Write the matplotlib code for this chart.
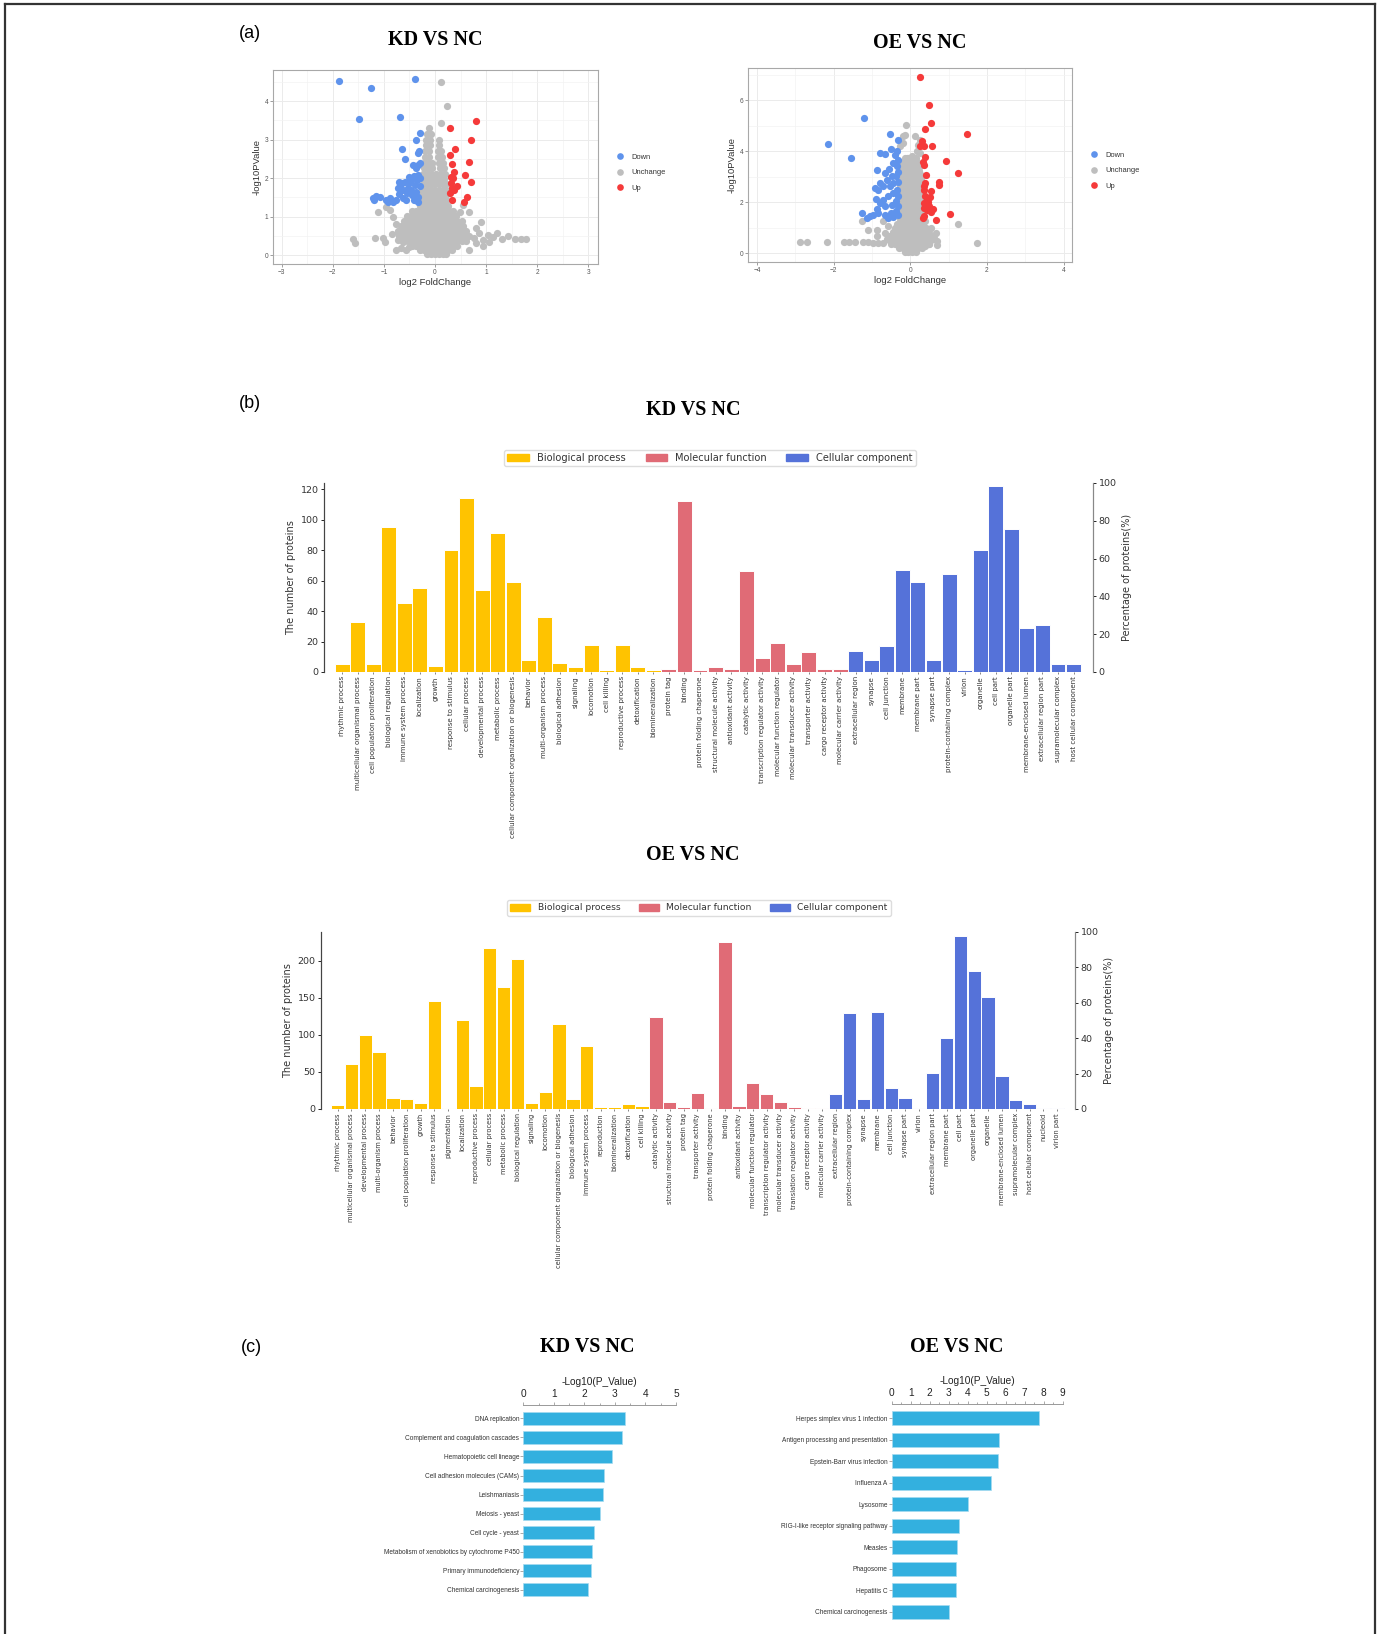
import matplotlib
matplotlib.use("Agg")
import matplotlib.pyplot as plt
from matplotlib.lines import Line2D
from matplotlib.patches import Patch

W, H = 1382, 1634

# ---------------- (a) volcano plots: points as (log2 FoldChange, -log10 PValue)
kd_down = [(-1.88, 4.53), (-1.25, 4.35), (-0.40, 4.58), (-1.48, 3.54), (-0.69, 3.59),
           (-0.29, 3.17), (-0.38, 2.99), (-0.65, 2.75), (-0.33, 2.65), (-0.58, 2.51),
           (-0.31, 2.71), (-0.43, 2.33), (-0.33, 2.35), (-0.37, 2.26), (-0.29, 2.39),
           (-1.22, 1.48), (-1.15, 1.54), (-1.08, 1.52), (-1.19, 1.44), (-0.96, 1.44),
           (-0.89, 1.48), (-0.83, 1.39), (-0.91, 1.37), (-0.76, 1.44), (-0.70, 1.58),
           (-0.63, 1.48), (-0.57, 1.44), (-0.71, 1.91), (-0.65, 1.87), (-0.58, 1.91),
           (-0.50, 1.87), (-0.47, 1.96), (-0.53, 1.74), (-0.47, 1.70), (-0.40, 1.83),
           (-0.36, 1.96), (-0.37, 1.65), (-0.45, 1.57), (-0.34, 1.52), (-0.63, 1.70),
           (-0.73, 1.74), (-0.68, 1.80), (-0.50, 2.04), (-0.42, 2.06), (-0.34, 2.09),
           (-0.41, 1.44), (-0.33, 1.39), (-0.55, 1.62), (-0.29, 1.80), (-0.30, 2.00)]
kd_up = [(0.29, 3.31), (0.81, 3.48), (0.70, 3.00), (0.39, 2.75), (0.29, 2.60),
         (0.67, 2.43), (0.34, 2.37), (0.37, 2.15), (0.31, 2.04), (0.58, 2.09),
         (0.71, 1.90), (0.31, 1.87), (0.43, 1.80), (0.33, 1.74), (0.38, 1.68),
         (0.30, 1.61), (0.63, 1.52), (0.33, 1.44), (0.56, 1.37), (0.35, 2.00)]
kd_gray_extra = [(0.12, 4.50), (0.23, 3.88), (0.12, 3.43),
                 (-1.11, 1.13), (-0.96, 1.24), (-0.89, 1.18), (-0.83, 1.00), (-0.76, 0.81),
                 (-0.73, 0.61), (-0.63, 0.35), (-0.67, 0.18), (-0.57, 0.14), (-0.50, 0.22),
                 (-1.17, 0.44), (-1.01, 0.44), (-0.97, 0.33), (-1.60, 0.42), (-1.56, 0.31),
                 (-0.76, 0.14), (-0.73, 0.40), (-0.85, 0.55),
                 (0.54, 0.66), (0.66, 1.11), (0.54, 1.31), (0.48, 1.13), (0.80, 0.70),
                 (0.90, 0.87), (0.77, 0.44), (0.87, 0.57), (0.93, 0.40), (1.03, 0.53),
                 (1.13, 0.47), (0.93, 0.23), (0.80, 0.31), (0.67, 0.14), (1.31, 0.42),
                 (1.42, 0.50), (1.57, 0.42), (1.68, 0.42), (1.79, 0.42), (1.22, 0.57),
                 (1.06, 0.33)]
kd_core_y = [0.04, 0.14, 0.25, 0.37, 0.50, 0.63, 0.76, 0.89, 1.02, 1.15, 1.28, 1.42, 1.56,
             1.70, 1.84, 1.98, 2.12, 2.26, 2.40, 2.55, 2.70, 2.85, 3.00, 3.15, 3.30]
kd_core_x = [
    [-0.16, -0.08, 0.0, 0.08, 0.16, 0.22],
    [-0.30, -0.22, -0.14, -0.06, 0.02, 0.10, 0.18, 0.26, 0.34],
    [-0.45, -0.37, -0.29, -0.21, -0.13, -0.05, 0.03, 0.11, 0.19, 0.27, 0.35, 0.43],
    [-0.60, -0.52, -0.44, -0.36, -0.28, -0.20, -0.12, -0.04, 0.04, 0.12, 0.20, 0.28, 0.36, 0.44, 0.52, 0.60],
    [-0.70, -0.62, -0.54, -0.46, -0.38, -0.30, -0.22, -0.14, -0.06, 0.02, 0.10, 0.18, 0.26, 0.34, 0.42, 0.50, 0.58, 0.66],
    [-0.72, -0.64, -0.56, -0.48, -0.40, -0.32, -0.24, -0.16, -0.08, 0.0, 0.08, 0.16, 0.24, 0.32, 0.40, 0.48, 0.60],
    [-0.66, -0.58, -0.50, -0.42, -0.34, -0.26, -0.18, -0.10, -0.02, 0.06, 0.14, 0.22, 0.30, 0.38, 0.46, 0.54],
    [-0.60, -0.52, -0.44, -0.36, -0.28, -0.20, -0.12, -0.04, 0.04, 0.12, 0.20, 0.28, 0.36, 0.44, 0.52],
    [-0.55, -0.47, -0.39, -0.31, -0.23, -0.15, -0.07, 0.01, 0.09, 0.17, 0.25, 0.33, 0.42],
    [-0.45, -0.37, -0.29, -0.21, -0.13, -0.05, 0.03, 0.11, 0.19, 0.27, 0.36],
    [-0.30, -0.22, -0.14, -0.06, 0.02, 0.10, 0.18, 0.26],
    [-0.26, -0.18, -0.10, -0.02, 0.06, 0.14, 0.22],
    [-0.26, -0.18, -0.10, -0.02, 0.06, 0.14, 0.22],
    [-0.25, -0.17, -0.09, -0.01, 0.07, 0.15, 0.22],
    [-0.24, -0.16, -0.08, 0.0, 0.08, 0.16, 0.22],
    [-0.24, -0.16, -0.08, 0.0, 0.10, 0.18],
    [-0.23, -0.15, -0.07, 0.02, 0.11, 0.19],
    [-0.22, -0.14, -0.06, 0.09, 0.17],
    [-0.21, -0.13, -0.06, 0.08, 0.16],
    [-0.20, -0.12, 0.06, 0.13],
    [-0.19, -0.11, 0.05, 0.12],
    [-0.18, -0.10, 0.07],
    [-0.17, -0.09, 0.07],
    [-0.16, -0.08],
    [-0.12],
]

oe_down = [(-1.20, 5.32), (-2.14, 4.29), (-1.55, 3.75), (-0.54, 4.69), (-0.31, 4.46),
           (-0.79, 3.93), (-0.66, 3.91), (-0.51, 4.09), (-0.39, 3.87), (-0.35, 4.00),
           (-0.88, 3.25), (-0.67, 3.15), (-0.44, 3.54), (-0.31, 3.67), (-0.79, 2.75),
           (-0.61, 2.88), (-0.48, 3.01), (-0.92, 2.56), (-0.83, 2.49), (-0.70, 2.62),
           (-0.54, 2.62), (-0.44, 2.75), (-0.37, 3.01), (-0.35, 3.41), (-0.89, 2.12),
           (-0.70, 2.10), (-0.57, 2.23), (-0.46, 2.36), (-0.35, 2.49), (-0.79, 1.97),
           (-0.66, 1.83), (-0.48, 1.90), (-0.37, 2.03), (-0.88, 1.73), (-1.05, 1.44),
           (-1.14, 1.38), (-0.96, 1.51), (-0.83, 1.57), (-0.66, 1.51), (-0.51, 1.57),
           (-0.38, 1.64), (-1.25, 1.57), (-0.57, 1.38), (-0.44, 1.42), (-0.33, 1.51),
           (-0.33, 1.83), (-0.33, 2.23), (-0.33, 2.80), (-0.33, 3.20), (-0.55, 3.30)]
oe_up = [(0.26, 6.91), (0.50, 5.82), (0.54, 5.10), (0.39, 4.89), (1.49, 4.69),
         (0.56, 4.22), (0.37, 4.22), (0.30, 4.39), (0.39, 3.77), (0.32, 3.56),
         (0.93, 3.63), (0.35, 3.47), (1.25, 3.15), (0.42, 3.05), (0.38, 2.75),
         (0.76, 2.79), (0.75, 2.66), (0.35, 2.62), (0.55, 2.42), (0.39, 2.23),
         (0.51, 2.19), (0.35, 1.97), (0.46, 1.99), (0.60, 1.74), (0.44, 1.68),
         (0.53, 1.60), (1.04, 1.53), (0.67, 1.31), (0.37, 1.44), (0.37, 1.77),
         (0.48, 1.86), (0.33, 1.38), (0.44, 2.10), (0.37, 2.49), (0.26, 4.19)]
oe_gray_extra = [(-0.12, 5.05), (-0.19, 4.59), (0.13, 4.59), (-0.13, 4.65), (-0.19, 4.33),
                 (0.18, 4.00), (0.25, 3.93), (0.19, 4.26), (-0.09, 3.73), (0.04, 3.80),
                 (-0.26, 4.19), (0.26, 4.46),
                 (-2.87, 0.42), (-2.70, 0.42), (-2.17, 0.42), (-1.74, 0.42), (-1.60, 0.42),
                 (-1.45, 0.42), (-1.23, 0.42), (-1.10, 0.42), (-0.96, 0.39), (-0.83, 0.39),
                 (-1.25, 1.25), (-1.10, 0.89), (-0.86, 0.89), (-0.70, 1.25), (-0.66, 0.79),
                 (-0.57, 1.05), (-0.88, 0.66), (1.75, 0.39), (1.25, 1.15), (0.68, 0.79),
                 (0.70, 0.46), (0.70, 0.33), (0.50, 0.37), (0.61, 0.59), (0.53, 0.98),
                 (0.39, 1.25), (0.48, 0.79), (0.39, 0.26), (-0.70, 0.40), (-0.62, 0.55)]
oe_core_y = [0.05, 0.20, 0.36, 0.52, 0.68, 0.84, 1.00, 1.16, 1.32, 1.48, 1.64, 1.80,
             1.96, 2.12, 2.28, 2.44, 2.60, 2.76, 2.92, 3.08, 3.24, 3.40, 3.56, 3.72]
oe_core_x = [
    [-0.15, -0.05, 0.05, 0.15],
    [-0.30, -0.20, -0.10, 0.0, 0.10, 0.20, 0.30],
    [-0.50, -0.40, -0.30, -0.20, -0.10, 0.0, 0.10, 0.20, 0.30, 0.40, 0.50],
    [-0.55, -0.45, -0.35, -0.25, -0.15, -0.05, 0.05, 0.15, 0.25, 0.35, 0.45, 0.55],
    [-0.55, -0.45, -0.35, -0.25, -0.15, -0.05, 0.05, 0.15, 0.25, 0.35, 0.45, 0.55],
    [-0.45, -0.35, -0.25, -0.15, -0.05, 0.05, 0.15, 0.25, 0.35, 0.45],
    [-0.40, -0.30, -0.20, -0.10, 0.0, 0.10, 0.20, 0.30, 0.40],
    [-0.35, -0.25, -0.15, -0.05, 0.05, 0.15, 0.25, 0.33],
    [-0.27, -0.17, -0.07, 0.03, 0.13, 0.23, 0.30],
    [-0.27, -0.18, -0.08, 0.02, 0.12, 0.22, 0.30],
    [-0.26, -0.17, -0.07, 0.03, 0.13, 0.23, 0.30],
    [-0.27, -0.18, -0.08, 0.02, 0.12, 0.22, 0.29],
    [-0.26, -0.17, -0.07, 0.03, 0.13, 0.23, 0.30],
    [-0.27, -0.18, -0.08, 0.02, 0.12, 0.22, 0.29],
    [-0.26, -0.17, -0.07, 0.03, 0.13, 0.23, 0.30],
    [-0.27, -0.18, -0.08, 0.02, 0.12, 0.22, 0.29],
    [-0.26, -0.17, -0.07, 0.03, 0.13, 0.23, 0.30],
    [-0.27, -0.18, -0.08, 0.02, 0.12, 0.22, 0.29],
    [-0.26, -0.17, -0.07, 0.03, 0.13, 0.23, 0.28],
    [-0.26, -0.18, -0.08, 0.02, 0.12, 0.22, 0.28],
    [-0.25, -0.16, -0.07, 0.03, 0.13, 0.22],
    [-0.24, -0.15, -0.06, 0.04, 0.14, 0.22],
    [-0.22, -0.12, -0.02, 0.08, 0.18],
    [-0.15, -0.05, 0.05, 0.15],
]

# ---------------- (b) GO classification counts
kd_bp_terms = ["rhythmic process", "multicellular organismal process", "cell population proliferation",
               "biological regulation", "immune system process", "localization", "growth",
               "response to stimulus", "cellular process", "developmental process", "metabolic process",
               "cellular component organization or biogenesis", "behavior", "multi-organism process",
               "biological adhesion", "signaling", "locomotion", "cell killing", "reproductive process",
               "detoxification", "biomineralization"]
kd_bp_counts = [5, 33, 5, 95, 45, 55, 4, 80, 114, 54, 91, 59, 8, 36, 6, 3, 18, 1, 18, 3, 1]
kd_mf_terms = ["protein tag", "binding", "protein folding chaperone", "structural molecule activity",
               "antioxidant activity", "catalytic activity", "transcription regulator activity",
               "molecular function regulator", "molecular transducer activity", "transporter activity",
               "cargo receptor activity", "molecular carrier activity"]
kd_mf_counts = [2, 112, 1, 3, 2, 66, 9, 19, 5, 13, 2, 2]
kd_cc_terms = ["extracellular region", "synapse", "cell junction", "membrane", "membrane part",
               "synapse part", "protein-containing complex", "virion", "organelle", "cell part",
               "organelle part", "membrane-enclosed lumen", "extracellular region part",
               "supramolecular complex", "host cellular component"]
kd_cc_counts = [14, 8, 17, 67, 59, 8, 64, 1, 80, 122, 94, 29, 31, 5, 5]

oe_bp_terms = ["rhythmic process", "multicellular organismal process", "developmental process",
               "multi-organism process", "behavior", "cell population proliferation", "growth",
               "response to stimulus", "pigmentation", "localization", "reproductive process",
               "cellular process", "metabolic process", "biological regulation", "signaling",
               "locomotion", "cellular component organization or biogenesis", "biological adhesion",
               "immune system process", "reproduction", "biomineralization", "detoxification",
               "cell killing"]
oe_bp_counts = [6, 61, 100, 77, 15, 14, 8, 145, 1, 120, 31, 217, 165, 202, 8, 23, 115, 13, 85,
                3, 3, 7, 4]
oe_mf_terms = ["catalytic activity", "structural molecule activity", "protein tag", "transporter activity",
               "protein folding chaperone", "binding", "antioxidant activity", "molecular function regulator",
               "transcription regulator activity", "molecular transducer activity",
               "translation regulator activity", "cargo receptor activity", "molecular carrier activity"]
oe_mf_counts = [124, 10, 3, 22, 2, 225, 4, 35, 20, 10, 3, 2, 2]
oe_cc_terms = ["extracellular region", "protein-containing complex", "synapse", "membrane",
               "cell junction", "synapse part", "virion", "extracellular region part", "membrane part",
               "cell part", "organelle part", "organelle", "membrane-enclosed lumen",
               "supramolecular complex", "host cellular component", "nucleoid", "virion part"]
oe_cc_counts = [20, 130, 13, 131, 28, 15, 2, 49, 96, 233, 186, 151, 45, 12, 7, 1, 1]

# ---------------- (c) KEGG enrichment
kd_kegg_terms = ["DNA replication", "Complement and coagulation cascades", "Hematopoietic cell lineage",
                 "Cell adhesion molecules (CAMs)", "Leishmaniasis", "Meiosis - yeast", "Cell cycle - yeast",
                 "Metabolism of xenobiotics by cytochrome P450", "Primary immunodeficiency",
                 "Chemical carcinogenesis"]
kd_kegg_values = [3.33, 3.24, 2.89, 2.65, 2.60, 2.51, 2.33, 2.24, 2.21, 2.11]
oe_kegg_terms = ["Herpes simplex virus 1 infection", "Antigen processing and presentation",
                 "Epstein-Barr virus infection", "Influenza A", "Lysosome",
                 "RIG-I-like receptor signaling pathway", "Measles", "Phagosome", "Hepatitis C",
                 "Chemical carcinogenesis"]
oe_kegg_values = [7.75, 5.63, 5.58, 5.21, 4.00, 3.54, 3.44, 3.39, 3.39, 3.04]

BLUE, GRAY, RED = "#5F93EC", "#BEBEBE", "#F53A3A"
BP_C, MF_C, CC_C = "#FFC300", "#E06B76", "#5572D9"
SANS = ["Liberation Sans", "DejaVu Sans"]
SERIF = ["Liberation Serif", "DejaVu Serif"]


def box(x0, y0, x1, y1):
    # pixel box of the full picture -> figure fraction
    return [x0 / W, 1 - y1 / H, (x1 - x0) / W, (y1 - y0) / H]


def fx(x):
    return x / W


def fy(y):
    return 1 - y / H


fig = plt.figure(figsize=(W / 100, H / 100), dpi=100)


def volcano(rect, down, gray_rows_y, gray_rows_x, gray_extra, up, xlim, ylim, xt, xminor, yt, yminor):
    ax = fig.add_axes(rect)
    gx, gy = [], []
    for yv, xs in zip(gray_rows_y, gray_rows_x):
        for xv in xs:
            gx.append(xv)
            gy.append(yv)
    for xv, yv in gray_extra:
        gx.append(xv)
        gy.append(yv)
    ax.scatter(gx, gy, s=27, c=GRAY, linewidths=0, zorder=2)
    ax.scatter([p[0] for p in down], [p[1] for p in down], s=27, c=BLUE, linewidths=0, zorder=3)
    ax.scatter([p[0] for p in up], [p[1] for p in up], s=27, c=RED, linewidths=0, zorder=3)
    ax.set_xlim(*xlim)
    ax.set_ylim(*ylim)
    ax.set_xticks(xt)
    ax.set_xticks(xminor, minor=True)
    ax.set_yticks(yt)
    ax.set_yticks(yminor, minor=True)
    ax.grid(which="major", color="#EBEBEB", lw=0.7)
    ax.grid(which="minor", color="#F3F3F3", lw=0.5)
    ax.set_axisbelow(True)
    for s in ax.spines.values():
        s.set_color("#A8A8A8")
        s.set_linewidth(0.8)
    ax.tick_params(which="major", length=2, width=0.5, color="#777777", labelsize=4.7,
                   labelcolor="#555555", pad=1.5)
    ax.tick_params(which="minor", length=0)
    for t in ax.get_xticklabels() + ax.get_yticklabels():
        t.set_family(SANS)
    ax.set_xlabel("log2 FoldChange", fontsize=6.8, family=SANS, labelpad=1.5, color="#333333")
    ax.set_ylabel("-log10PValue", fontsize=6.8, family=SANS, labelpad=2, color="#333333")
    handles = [Line2D([], [], ls="", marker="o", markersize=4.8, color=c, markeredgewidth=0)
               for c in (BLUE, GRAY, RED)]
    leg = ax.legend(handles, ["Down", "Unchange", "Up"], loc="center left", bbox_to_anchor=(1.045, 0.47),
                    frameon=False, handlelength=1.0, handletextpad=1.0, labelspacing=1.1,
                    borderpad=0, prop={"family": SANS, "size": 5.4})
    for t in leg.get_texts():
        t.set_color("#333333")
    return ax


volcano(box(273, 70, 598, 264), kd_down, kd_core_y, kd_core_x, kd_gray_extra, kd_up,
        (-3.17, 3.19), (-0.23, 4.81), [-3, -2, -1, 0, 1, 2, 3],
        [-2.5, -1.5, -0.5, 0.5, 1.5, 2.5], [0, 1, 2, 3, 4], [0.5, 1.5, 2.5, 3.5, 4.5])
volcano(box(748, 68, 1072, 262), oe_down, oe_core_y, oe_core_x, oe_gray_extra, oe_up,
        (-4.235, 4.22), (-0.35, 7.27), [-4, -2, 0, 2, 4], [-3, -1, 1, 3],
        [0, 2, 4, 6], [1, 3, 5, 7])


def go_panel(rect, groups, ytop, yticks, xlim, fs, legend_xy, legend_fs):
    terms, counts, colors = [], [], []
    for t, c, col in groups:
        terms += t
        counts += c
        colors += [col] * len(t)
    ax = fig.add_axes(rect)
    pos = list(range(len(terms)))
    ax.bar(pos, counts, width=0.96, color=colors, edgecolor="white", linewidth=0.7)
    ax.set_xlim(*xlim)
    ax.set_ylim(0, ytop)
    ax.set_xticks(pos)
    ax.set_xticklabels(terms, rotation=90, fontsize=fs, color="#333333")
    ax.set_yticks(yticks)
    ax.tick_params(axis="x", length=1.5, width=0.5, pad=1.5, color="#555555")
    ax.tick_params(axis="y", length=2.5, width=0.6, labelsize=6.8, labelcolor="#333333", pad=1.5)
    ax.set_ylabel("The number of proteins", fontsize=7, color="#333333", labelpad=3)
    ax2 = ax.twinx()
    ax2.set_ylim(0, 100)
    ax2.set_yticks([0, 20, 40, 60, 80, 100])
    ax2.tick_params(axis="y", length=2.5, width=0.6, labelsize=6.8, labelcolor="#333333", pad=1.5)
    ax2.set_ylabel("Percentage of proteins(%)", fontsize=7, color="#333333", labelpad=4)
    for a in (ax, ax2):
        a.spines["top"].set_visible(False)
        a.spines["bottom"].set_visible(False)
        a.spines["left"].set_color("#444444")
        a.spines["right"].set_color("#888888")
        a.spines["left"].set_linewidth(0.8)
        a.spines["right"].set_linewidth(0.8)
    handles = [Patch(color=BP_C), Patch(color=MF_C), Patch(color=CC_C)]
    fig.legend(handles, ["Biological process", "Molecular function", "Cellular component"],
               loc="center", bbox_to_anchor=legend_xy, ncol=3, fontsize=legend_fs,
               handlelength=2.2, handleheight=0.8, edgecolor="#DDDDDD", framealpha=1,
               borderpad=0.35, labelcolor="#333333")
    return ax


go_panel(box(324, 483, 1093, 672),
         [(kd_bp_terms, kd_bp_counts, BP_C), (kd_mf_terms, kd_mf_counts, MF_C),
          (kd_cc_terms, kd_cc_counts, CC_C)],
         124, [0, 20, 40, 60, 80, 100, 120], (-1.16, 48.25), 5.0, (fx(710), fy(458)), 7.1)
go_panel(box(321, 932, 1075, 1109),
         [(oe_bp_terms, oe_bp_counts, BP_C), (oe_mf_terms, oe_mf_counts, MF_C),
          (oe_cc_terms, oe_cc_counts, CC_C)],
         238.5, [0, 50, 100, 150, 200], (-1.2, 53.28), 4.8, (fx(699), fy(908)), 6.6)


def kegg_panel(rect, terms, values, xmax, ylim, bar_h):
    ax = fig.add_axes(rect)
    pos = list(range(len(terms)))
    ax.barh(pos, values, height=bar_h, color="#33B0DF", edgecolor="#A6DBF0", linewidth=0.5)
    ax.set_xlim(0, xmax)
    ax.set_ylim(*ylim)
    ax.xaxis.tick_top()
    ax.xaxis.set_label_position("top")
    ax.set_xticks(list(range(xmax + 1)))
    ax.set_xticks([i + 0.5 for i in range(xmax)], minor=True)
    ax.set_yticks(pos)
    ax.set_yticklabels(terms, fontsize=4.7, family=SANS, color="#333333")
    for t in ax.get_xticklabels():
        t.set_family(SANS)
    ax.tick_params(axis="x", which="major", length=2.5, width=0.5, labelsize=7.3, pad=1.5,
                   color="#888888", labelcolor="#222222")
    ax.tick_params(axis="x", which="minor", length=1.5, width=0.5, color="#888888")
    ax.tick_params(axis="y", length=2, width=0.5, pad=1, color="#888888")
    ax.set_xlabel("-Log10(P_Value)", fontsize=7.3, family=SANS, labelpad=3, color="#222222")
    for k in ("left", "right", "bottom"):
        ax.spines[k].set_visible(False)
    ax.spines["top"].set_color("#999999")
    ax.spines["top"].set_linewidth(0.7)
    return ax


kegg_panel(box(523.3, 1405, 676, 1601.4), kd_kegg_terms, kd_kegg_values, 5, (9.6, -0.7), 0.68)
kegg_panel(box(891.7, 1404, 1062.7, 1624.6), oe_kegg_terms, oe_kegg_values, 9, (9.6, -0.665), 0.66)

# titles and panel letters
for label, x, y in [("(a)", 250, 33), ("(b)", 250, 404), ("(c)", 251, 1348)]:
    fig.text(fx(x), fy(y), label, fontsize=13, family=SANS, ha="center", va="center")
for label, x, y in [("KD VS NC", 435, 40), ("OE VS NC", 920, 43), ("KD VS NC", 693, 410),
                    ("OE VS NC", 693, 855), ("KD VS NC", 587, 1347), ("OE VS NC", 957, 1347)]:
    fig.text(fx(x), fy(y), label, fontsize=14.5, family=SERIF, weight="bold", ha="center", va="center")

# outer frame (left, top, right)
frame = dict(transform=fig.transFigure, color="#333333", lw=1.6)
fig.add_artist(Line2D([fx(5), fx(5)], [0, fy(4)], **frame))
fig.add_artist(Line2D([fx(5), fx(1375)], [fy(4), fy(4)], **frame))
fig.add_artist(Line2D([fx(1375), fx(1375)], [0, fy(4)], **frame))

fig.savefig("out.png", dpi=100)
